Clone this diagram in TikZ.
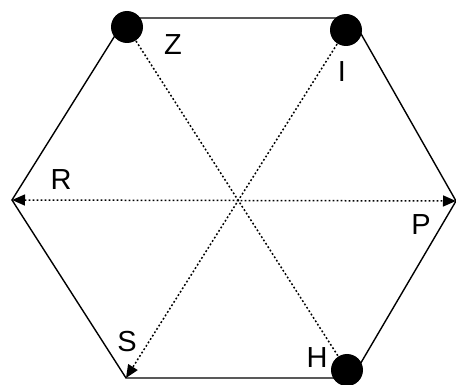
\documentclass[tikz,border=0pt]{standalone}
\usepackage{fontspec}
\setmainfont{Liberation Sans}
\usetikzlibrary{arrows.meta}

\begin{document}
\begin{tikzpicture}[x=1pt, y=-1pt, line width=1.4pt,
    dot/.style={circle, fill=black, inner sep=0pt, minimum size=32pt},
    diag/.style={line width=1.5pt, dash pattern=on 1.8pt off 2.2pt},
    tip/.style={-{Triangle[length=13pt, width=11pt]}},
    lbl/.style={anchor=base, inner sep=0pt, font=\fontsize{29}{34}\selectfont}]
  \useasboundingbox (0,0) rectangle (456,385);
  % corners of the hexagon
  \coordinate (L)  at (12,200);
  \coordinate (TL) at (126,18);
  \coordinate (TR) at (352,18);
  \coordinate (R)  at (456,201);
  \coordinate (BR) at (352,378);
  \coordinate (BL) at (126,378);
  \draw[line join=miter] (L) -- (TL) -- (TR) -- (R) -- (BR) -- (BL) -- cycle;
  % filled points
  \node[dot] (z) at (127,27) {};
  \node[dot] (i) at (346,30) {};
  \node[dot] (h) at (347,370) {};
  % dotted diagonals
  \draw[diag] (z) -- (h);
  \draw[diag, tip] (i) -- (BL);
  \draw[diag, {Triangle[length=13pt, width=11pt]}-{Triangle[length=13pt, width=11pt]}] (L) -- (R);
  % labels
  \node[lbl] (lz) at (173,55)  {Z};
  \node[lbl] (li) at (342,82)  {I};
  \node[lbl] (lr) at (61,190)  {R};
  \node[lbl] (lp) at (421,235) {P};
  \node[lbl] (ls) at (127,352) {S};
  \node[lbl] (lh) at (317,367) {H};
\end{tikzpicture}
\end{document}
